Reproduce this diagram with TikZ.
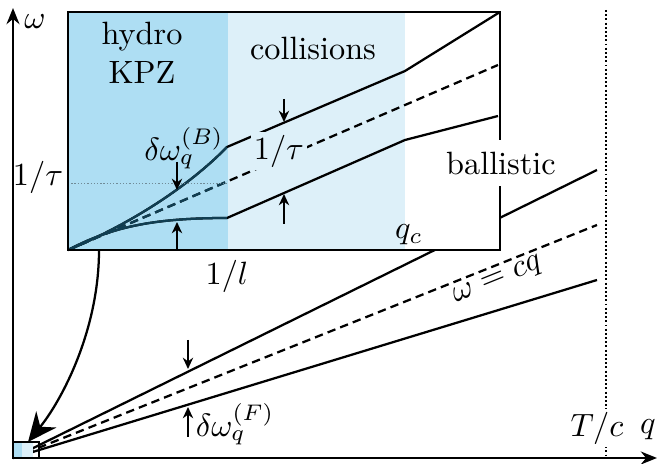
\documentclass[tikz,border=0pt]{standalone}
\usetikzlibrary{arrows.meta}
\definecolor{hydroblue}{RGB}{174,222,243}
\definecolor{collblue}{RGB}{221,240,249}
\definecolor{deepteal}{RGB}{16,62,82}

\begin{document}
\begin{tikzpicture}[
	x=0.31pt, y=-0.31pt,
	axis/.style={-{Stealth[length=5pt,width=4pt]}, line width=0.8pt},
	frame/.style={line width=0.8pt},
	branch/.style={line width=0.7pt},
	mean/.style={line width=0.7pt, dash pattern=on 2.6pt off 1.6pt},
	gap/.style={-{Stealth[length=3.5pt,width=3.2pt]}, line width=0.6pt},
	zoomarrow/.style={-{Stealth[length=9pt,width=8pt]}, line width=0.7pt},
	tag/.style={inner sep=1pt}
]
\useasboundingbox (0,0) rectangle (658,464);

\coordinate (org) at (13,458);
\coordinate (ins) at (68,250);

\draw[branch] (org) -- (597,170);
\draw[mean] (org) -- (597,225);
\draw[branch] (org) -- (597,280);
\draw[line width=0.7pt, dash pattern=on 0.6pt off 0.7pt] (606,10) -- (606,458);

\fill[white] (68,12) rectangle (500,250);
\fill[hydroblue] (68,12) rectangle (228,250);
\fill[collblue] (228,12) rectangle (405,250);

\draw[branch] (ins) .. controls (140,220) and (195,180) .. (227,147) -- (405,71) -- (500,12);
\draw[mean] (ins) -- (498,65);
\draw[branch] (ins) .. controls (110,228) and (150,218) .. (227,218) -- (405,140) -- (498,116);
\begin{scope}
	\clip (68,12) rectangle (227,250);
	\draw[branch, deepteal] (ins) .. controls (140,220) and (195,180) .. (227,147);
	\draw[mean, deepteal] (ins) -- (498,65);
	\draw[branch, deepteal] (ins) .. controls (110,228) and (150,218) .. (227,218);
\end{scope}
\draw[deepteal!60, line width=0.3pt, dash pattern=on 0.4pt off 0.6pt] (68,183) -- (228,183);
\draw[frame] (68,12) rectangle (500,250);

\node[tag, align=center] (hydro) at (142,53) {hydro\\KPZ};
\node[tag] (coll) at (313,48) {collisions};
\node[tag] (dwb) at (184,148) {$\delta\omega_q^{(B)}$};
\node[tag, fill=collblue] (itau) at (279,151) {$1/\tau$};
\node[tag] (qc) at (409,235) {$q_c$};
\node[fill=white, inner xsep=1pt, inner ysep=3.5pt] (ball) at (501,163) {ballistic};
\node[tag] (ell) at (227,276) {$1/l$};
\node[tag] (tau) at (38,177) {$1/\tau$};
\node[tag] (om) at (35,22) {$\omega$};
\node[tag] (dwf) at (235,424) {$\delta\omega_q^{(F)}$};
\node[tag, rotate=22] (disp) at (498,281) {$\omega = cq$};
\node[tag, fill=white] (tc) at (597,428) {$T/c$};
\node[tag] (qq) at (648,430) {$q$};

\draw[axis] (org) -- (13,8);
\draw[axis] (org) -- (657,458);

\fill[hydroblue] (13,442) rectangle (22,458);
\fill[collblue] (22,442) rectangle (33,458);
\draw[line width=0.5pt] (13,442) rectangle (39,458);
\coordinate (minitop) at (28,442);
\coordinate (foot) at (99,250);
\draw[zoomarrow] (foot) .. controls (99,330) and (62,400) .. (minitop);

\draw[gap] (177,162) -- (177,190);
\draw[gap] (177,250) -- (177,222);
\draw[gap] (284,99) -- (284,122);
\draw[gap] (284,224) -- (284,194);
\draw[gap] (188,340) -- (188,369);
\draw[gap] (188,437) -- (188,407);
\end{tikzpicture}
\end{document}
